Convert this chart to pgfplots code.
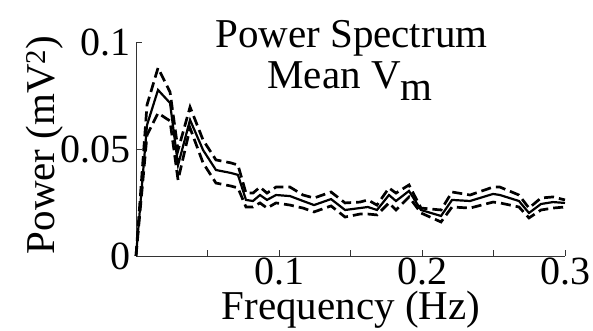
\documentclass[border=0pt]{standalone}
\usepackage{pgfplots}
\pgfplotsset{compat=1.18}
\usepackage{fontspec}
\setmainfont{Liberation Serif}
\begin{document}
\begin{tikzpicture}
\useasboundingbox (-136pt,-75pt) rectangle (457pt,256pt);
\begin{axis}[
  at={(0,0)}, anchor=south west,
  scale only axis, width=429pt, height=214pt,
  xmin=0, xmax=0.3, ymin=0, ymax=0.1,
  axis lines*=left,
  axis line style={-, line width=0.8pt, black!80},
  clip=false,
  xtick={0,0.05,0.1,0.15,0.2,0.25,0.3},
  xticklabels={,,0.1,,0.2,,0.3},
  ytick={0,0.05,0.1},
  yticklabels={0,0.05,0.1},
  tick align=inside,
  major tick length=6pt,
  tick style={line width=0.8pt, black!80},
  ticklabel style={font=\fontsize{40}{48}\selectfont, inner sep=0pt},
  xticklabel style={yshift=-2pt},
  yticklabel style={xshift=-5pt},
  xlabel={Frequency (Hz)},
  ylabel={Power (mV\textsuperscript{2})},
  label style={font=\fontsize{41}{48}\selectfont, inner sep=0pt},
  xlabel style={at={(axis description cs:0.501,-0.297)}, anchor=base},
  ylabel style={at={(axis description cs:-0.191,0.519)}, anchor=base, rotate=0},
]
% upper bound
\addplot[black, line width=2.7pt, dash pattern=on 10pt off 5pt] coordinates {
(0,0) (0.0077,0.0706) (0.0154,0.0879) (0.0238,0.0766) (0.0294,0.0495)
(0.0378,0.0696) (0.0469,0.0542) (0.0559,0.0449) (0.0664,0.0435) (0.0713,0.0425)
(0.0769,0.0294) (0.0818,0.0294) (0.0867,0.0322) (0.0916,0.0294) (0.0979,0.0322)
(0.1077,0.0322) (0.1168,0.0285) (0.1245,0.0271) (0.1364,0.0299) (0.1462,0.0248)
(0.1566,0.0252) (0.1622,0.0262) (0.1685,0.0238) (0.1769,0.0318) (0.1818,0.0294)
(0.1909,0.0332) (0.1993,0.0224) (0.2133,0.0215) (0.2210,0.0299) (0.2336,0.0285)
(0.2497,0.0322) (0.2545,0.0322) (0.2678,0.0285) (0.2748,0.0224) (0.2832,0.0271)
(0.2916,0.0276) (0.3000,0.0262)
};
% mean
\addplot[black, line width=2.2pt] coordinates {
(0,0) (0.0077,0.0612) (0.0154,0.0776) (0.0238,0.0715) (0.0294,0.0425)
(0.0378,0.0636) (0.0469,0.0495) (0.0559,0.0402) (0.0664,0.0388) (0.0713,0.0379)
(0.0769,0.0262) (0.0818,0.0257) (0.0867,0.0285) (0.0916,0.0262) (0.0979,0.0285)
(0.1077,0.0280) (0.1168,0.0257) (0.1245,0.0238) (0.1364,0.0266) (0.1462,0.0215)
(0.1566,0.0224) (0.1622,0.0229) (0.1685,0.0215) (0.1769,0.0285) (0.1818,0.0257)
(0.1909,0.0304) (0.1993,0.0215) (0.2133,0.0187) (0.2210,0.0262) (0.2336,0.0257)
(0.2497,0.0290) (0.2545,0.0285) (0.2678,0.0257) (0.2748,0.0201) (0.2832,0.0243)
(0.2916,0.0252) (0.3000,0.0248)
};
% lower bound
\addplot[black, line width=2.7pt, dash pattern=on 10pt off 5pt] coordinates {
(0,0) (0.0077,0.0565) (0.0154,0.0668) (0.0238,0.0631) (0.0294,0.0355)
(0.0378,0.0598) (0.0469,0.0435) (0.0559,0.0341) (0.0664,0.0327) (0.0713,0.0318)
(0.0769,0.0229) (0.0818,0.0229) (0.0867,0.0248) (0.0916,0.0224) (0.0979,0.0248)
(0.1077,0.0238) (0.1168,0.0224) (0.1245,0.0206) (0.1364,0.0234) (0.1462,0.0182)
(0.1566,0.0196) (0.1622,0.0196) (0.1685,0.0192) (0.1769,0.0248) (0.1818,0.0215)
(0.1909,0.0276) (0.1993,0.0201) (0.2133,0.0159) (0.2210,0.0229) (0.2336,0.0224)
(0.2497,0.0252) (0.2545,0.0248) (0.2678,0.0229) (0.2748,0.0178) (0.2832,0.0215)
(0.2916,0.0224) (0.3000,0.0229)
};
\node[anchor=base, inner sep=0pt, font=\fontsize{41}{48}\selectfont] at (axis description cs:0.502,0.972) {Power Spectrum};
\node[anchor=base, inner sep=0pt, font=\fontsize{41}{48}\selectfont] at (axis description cs:0.499,0.785) {Mean V\raisebox{-12pt}{m}};
\end{axis}
\end{tikzpicture}
\end{document}
